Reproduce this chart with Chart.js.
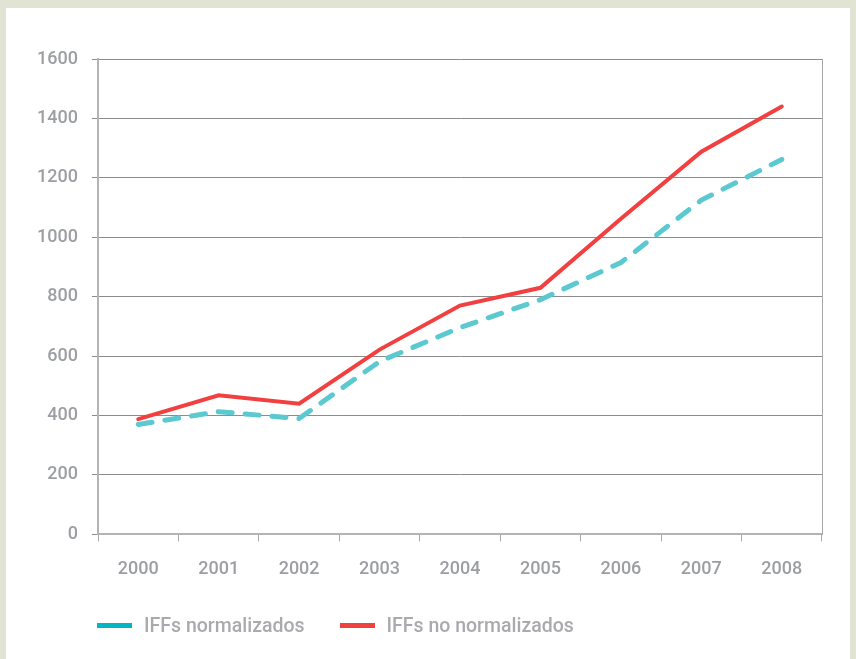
<!DOCTYPE html>
<html>
<head>
<meta charset="utf-8">
<script src="https://cdn.jsdelivr.net/npm/chart.js@4/dist/chart.umd.min.js"></script>
<style>
  body { margin: 0; background: #e1e4d3; }
  #caja { position: absolute; left: 6px; top: 8px; width: 844px; height: 651px; background: #fff; }
  #leyenda { position: absolute; left: 97px; top: 612px; font: 500 19.5px Roboto, sans-serif; color: #a8aaae; white-space: nowrap; }
  #leyenda span { display: inline-block; vertical-align: middle; }
  .muestra { width: 35px; height: 5px; margin-right: 12px; }
  .item { margin-right: 35px; }
</style>
</head>
<body>
<div id="caja"><canvas id="grafico" width="844" height="651"></canvas></div>
<div id="leyenda"></div>
<script>
// Datos
const anios = ['2000', '2001', '2002', '2003', '2004', '2005', '2006', '2007', '2008'];
const normalizados = [370, 413, 390, 582, 696, 790, 915, 1125, 1262];
const noNormalizados = [388, 468, 440, 622, 770, 830, 1062, 1288, 1440];
const ticksY = [0, 200, 400, 600, 800, 1000, 1200, 1400, 1600];
const series = ['IFFs normalizados', 'IFFs no normalizados'];
const coloresLeyenda = ['#00b6c4', '#ef413e'];

const gris = '#9c9ea2';
const ctx = document.getElementById('grafico').getContext('2d');

const grafico = new Chart(ctx, {
    type: 'line',
    data: {
        labels: anios,
        datasets: [{
            label: series[0],
            data: normalizados,
            borderColor: '#5cc9d1',
            borderWidth: 5,
            borderDash: [14, 13],
            borderCapStyle: 'round',
            pointRadius: 0,
            tension: 0
        }, {
            label: series[1],
            data: noNormalizados,
            borderColor: '#f1403f',
            borderWidth: 4,
            borderCapStyle: 'round',
            pointRadius: 0,
            tension: 0
        }]
    },
    options: {
        responsive: false,
        animation: false,
        layout: { padding: { left: 20, top: 51, right: 28, bottom: 62 } },
        plugins: {
            tooltip: { enabled: false },
            legend: { display: false }
        },
        scales: {
            x: {
                offset: true,
                grid: { offset: true, drawOnChartArea: false, drawTicks: true, tickLength: 7, color: '#a8a8a8' },
                border: { color: '#b4b4b4', width: 2 },
                ticks: { color: gris, padding: 17, font: { family: 'Roboto', size: 18, weight: '500' } }
            },
            y: {
                min: 0,
                max: 1600,
                afterFit: scale => { scale.width = 72; },
                afterBuildTicks: scale => { scale.ticks = ticksY.map(v => ({ value: v })); },
                grid: { color: '#8c8c8c', tickLength: 6 },
                border: { color: '#b4b4b4', width: 2 },
                ticks: {
                    color: gris, padding: 14,
                    font: { family: 'Roboto', size: 18, weight: '500' },
                    callback: v => String(v)
                }
            },
            y2: {
                position: 'right',
                min: 0,
                max: 1600,
                grid: { display: false, drawTicks: false },
                border: { color: '#a8a8a8', width: 1 },
                ticks: { display: false }
            }
        }
    }
});

// Leyenda en HTML a partir de los datasets
const leyenda = document.getElementById('leyenda');
grafico.data.datasets.forEach((ds, i) => {
    const item = document.createElement('span');
    item.className = 'item';
    item.innerHTML = '<span class="muestra" style="background:' + coloresLeyenda[i] + '"></span><span>' + ds.label + '</span>';
    leyenda.appendChild(item);
});
</script>
</body>
</html>
